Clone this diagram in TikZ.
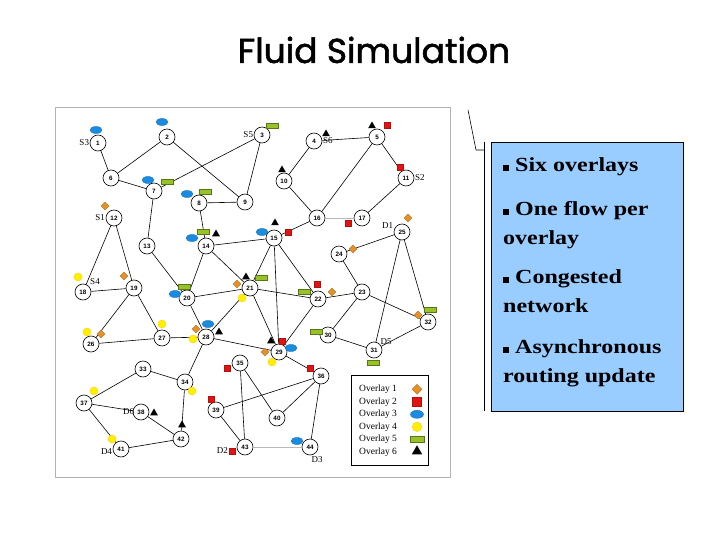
\documentclass[tikz,border=0pt]{standalone}
\usepackage{fontspec}
\setmainfont{Liberation Serif}
\newfontfamily\titlefont{Poppins}[FakeBold=1.6]
\newfontfamily\numfont{Liberation Sans}
\newfontfamily\notefont{Liberation Serif}[FakeStretch=1.2]
\usepackage{xcolor}
\usepackage{tikz}
\usetikzlibrary{positioning,shapes.geometric}

\definecolor{ovorange}{RGB}{230,145,40}
\definecolor{ovred}{RGB}{225,20,20}
\definecolor{ovblue}{RGB}{25,140,225}
\definecolor{ovyellow}{RGB}{255,240,0}
\definecolor{ovgreen}{RGB}{150,195,40}
\definecolor{notefill}{RGB}{153,204,255}

\begin{document}
\begin{tikzpicture}[
  x=1pt,y=-1pt,
  nd/.style={circle,draw,fill=white,line width=0.6pt,inner sep=0pt,minimum size=16pt,
             font=\numfont\bfseries\fontsize{6.3}{7}\selectfont},
  lbl/.style={inner sep=0.5pt,font=\fontsize{9}{10}\selectfont},
  link/.style={line width=0.6pt},
  glink/.style={line width=0.9pt,gray!55},
  ovdia/.style={diamond,draw=ovorange!75!black,fill=ovorange,inner sep=0pt,minimum size=8pt},
  ovsq/.style={rectangle,draw=ovred!80!black,fill=ovred,inner sep=0pt,minimum size=6.5pt},
  ovell/.style={ellipse,draw=ovblue!80!black,fill=ovblue,inner sep=0pt,minimum width=12pt,minimum height=7pt},
  ovhex/.style={circle,draw=ovyellow!70!orange,fill=ovyellow,inner sep=0pt,minimum size=8pt},
  ovbar/.style={rectangle,draw=ovgreen!60!black,fill=ovgreen,inner sep=0pt,minimum width=12pt,minimum height=5pt},
  ovtri/.style={regular polygon,regular polygon sides=3,fill=black,inner sep=0pt,minimum size=9pt},
  legtxt/.style={anchor=west,inner sep=0pt,font=\fontsize{9.5}{10}\selectfont},
  item/.style={anchor=north west,inner sep=0pt,align=left,
               font=\notefont\bfseries\fontsize{20}{29}\selectfont}
]
  \fill[white] (0,0) rectangle (720,540);
  \useasboundingbox (0,0) rectangle (720,540);

  % title
  \node[font=\titlefont\fontsize{34.5}{36}\selectfont] (title) at (374,50) {Fluid Simulation};

  % network picture frame
  \node[draw=gray!60,line width=0.8pt,minimum width=395pt,minimum height=370pt,inner sep=0pt] (frame) at (252.5,292) {};

  % routers
  \node[nd] (n1)  at (98,143)  {1};
  \node[nd] (n2)  at (167,137) {2};
  \node[nd] (n3)  at (262,135) {3};
  \node[nd] (n4)  at (314,141) {4};
  \node[nd] (n5)  at (377,137) {5};
  \node[nd] (n6)  at (111,178) {6};
  \node[nd] (n7)  at (154,191) {7};
  \node[nd] (n8)  at (199,203) {8};
  \node[nd] (n9)  at (245,202) {9};
  \node[nd] (n10) at (284,181) {10};
  \node[nd] (n11) at (406,178) {11};
  \node[nd] (n12) at (114,218) {12};
  \node[nd] (n13) at (147,246) {13};
  \node[nd] (n14) at (206,246) {14};
  \node[nd] (n15) at (274,238) {15};
  \node[nd] (n16) at (317,218) {16};
  \node[nd] (n17) at (362,218) {17};
  \node[nd] (n18) at (83,292)  {18};
  \node[nd] (n19) at (134,288) {19};
  \node[nd] (n20) at (187,298) {20};
  \node[nd] (n21) at (250,288) {21};
  \node[nd] (n22) at (318,299) {22};
  \node[nd] (n23) at (362,292) {23};
  \node[nd] (n24) at (339,254) {24};
  \node[nd] (n25) at (402,232) {25};
  \node[nd] (n26) at (91,344)  {26};
  \node[nd] (n27) at (162,338) {27};
  \node[nd] (n28) at (206,337) {28};
  \node[nd] (n29) at (279,352) {29};
  \node[nd] (n30) at (328,335) {30};
  \node[nd] (n31) at (374,350) {31};
  \node[nd] (n32) at (428,322) {32};
  \node[nd] (n33) at (143,369) {33};
  \node[nd] (n34) at (185,382) {34};
  \node[nd] (n35) at (240,363) {35};
  \node[nd] (n36) at (321,376) {36};
  \node[nd] (n37) at (84,403)  {37};
  \node[nd] (n38) at (141,412) {38};
  \node[nd] (n39) at (216,410) {39};
  \node[nd] (n40) at (277,418) {40};
  \node[nd] (n41) at (121,449) {41};
  \node[nd] (n42) at (181,439) {42};
  \node[nd] (n43) at (245,447) {43};
  \node[nd] (n44) at (310,447) {44};

  % links
  \draw[link] (n1) -- (n6);
  \draw[link] (n6) -- (n2);
  \draw[link] (n6) -- (n7);
  \draw[link] (n2) -- (n9);
  \draw[link] (n3) -- (n7);
  \draw[link] (n3) -- (n9);
  \draw[link] (n8) -- (n9);
  \draw[link] (n7) -- (n13);
  \draw[link] (n8) -- (n14);
  \draw[link] (n4) -- (n10);
  \draw[link] (n4) -- (n5);
  \draw[link] (n5) -- (n16);
  \draw[link] (n5) -- (n11);
  \draw[link] (n10) -- (n16);
  \draw[glink] (n16) -- (n17);
  \draw[link] (n11) -- (n17);
  \draw[link] (n16) -- (n15);
  \draw[link] (n14) -- (n15);
  \draw[link] (n12) -- (n18);
  \draw[link] (n12) -- (n19);
  \draw[link] (n13) -- (n20);
  \draw[link] (n14) -- (n20);
  \draw[link] (n14) -- (n21);
  \draw[link] (n15) -- (n21);
  \draw[link] (n15) -- (n22);
  \draw[link] (n15) -- (n29);
  \draw[link] (n18) -- (n19);
  \draw[link] (n19) -- (n26);
  \draw[link] (n19) -- (n27);
  \draw[link] (n20) -- (n21);
  \draw[link] (n20) -- (n28);
  \draw[link] (n21) -- (n22);
  \draw[link] (n21) -- (n29);
  \draw[link] (n22) -- (n23);
  \draw[link] (n22) -- (n29);
  \draw[link] (n24) -- (n23);
  \draw[link] (n24) -- (n25);
  \draw[link] (n23) -- (n30);
  \draw[link] (n23) -- (n32);
  \draw[link] (n25) -- (n31);
  \draw[link] (n25) -- (n32);
  \draw[link] (n30) -- (n31);
  \draw[link] (n31) -- (n32);
  \draw[link] (n26) -- (n27);
  \draw[link] (n27) -- (n28);
  \draw[link] (n28) -- (n21);
  \draw[link] (n28) -- (n29);
  \draw[link] (n28) -- (n34);
  \draw[link] (n29) -- (n36);
  \draw[link] (n33) -- (n34);
  \draw[link] (n33) -- (n37);
  \draw[link] (n37) -- (n38);
  \draw[link] (n37) -- (n41);
  \draw[link] (n38) -- (n42);
  \draw[link] (n41) -- (n42);
  \draw[link] (n34) -- (n42);
  \draw[link] (n35) -- (n43);
  \draw[link] (n35) -- (n40);
  \draw[link] (n39) -- (n36);
  \draw[link] (n39) -- (n43);
  \draw[link] (n36) -- (n40);
  \draw[link] (n36) -- (n44);
  \draw[glink] (n43) -- (n44);

  % overlay 1
  \node[ovdia] (a1)  at (105,206) {};
  \node[ovdia] (a2)  at (408,218) {};
  \node[ovdia] (a3)  at (124,276) {};
  \node[ovdia] (a4)  at (237,284) {};
  \node[ovdia] (a5)  at (101,334) {};
  \node[ovdia] (a6)  at (196,329) {};
  \node[ovdia] (a7)  at (353,249) {};
  \node[ovdia] (a8)  at (332,292) {};
  \node[ovdia] (a9)  at (418,315) {};
  \node[ovdia] (a10) at (265,352) {};
  % overlay 2
  \node[ovsq] (r1)  at (387,125) {};
  \node[ovsq] (r2)  at (400,167) {};
  \node[ovsq] (r3)  at (348,223) {};
  \node[ovsq] (r4)  at (288,232) {};
  \node[ovsq] (r5)  at (317,284) {};
  \node[ovsq] (r6)  at (282,341) {};
  \node[ovsq] (r7)  at (310,368) {};
  \node[ovsq] (r8)  at (227,368) {};
  \node[ovsq] (r9)  at (211,399) {};
  \node[ovsq] (r10) at (232,451) {};
  % overlay 3
  \node[ovell] (b1)  at (96,130)  {};
  \node[ovell] (b2)  at (162,122) {};
  \node[ovell] (b3)  at (148,180) {};
  \node[ovell] (b4)  at (187,194) {};
  \node[ovell] (b5)  at (192,238) {};
  \node[ovell] (b6)  at (262,232) {};
  \node[ovell] (b7)  at (175,294) {};
  \node[ovell] (b8)  at (208,324) {};
  \node[ovell] (b9)  at (291,348) {};
  \node[ovell] (b10) at (297,441) {};
  % overlay 4
  \node[ovhex] (y1) at (78,277)  {};
  \node[ovhex] (y2) at (242,298) {};
  \node[ovhex] (y3) at (87,332)  {};
  \node[ovhex] (y4) at (162,324) {};
  \node[ovhex] (y5) at (193,339) {};
  \node[ovhex] (y6) at (272,362) {};
  \node[ovhex] (y7) at (192,391) {};
  \node[ovhex] (y8) at (94,391)  {};
  \node[ovhex] (y9) at (112,439) {};
  % overlay 5
  \node[ovbar] (g1)  at (167,182) {};
  \node[ovbar] (g2)  at (205,192) {};
  \node[ovbar] (g3)  at (272,126) {};
  \node[ovbar] (g4)  at (203,232) {};
  \node[ovbar] (g5)  at (184,287) {};
  \node[ovbar] (g6)  at (261,278) {};
  \node[ovbar] (g7)  at (304,292) {};
  \node[ovbar] (g8)  at (316,332) {};
  \node[ovbar] (g9)  at (430,310) {};
  \node[ovbar] (g10) at (373,363) {};
  % overlay 6
  \node[ovtri] (t1)  at (326,134) {};
  \node[ovtri] (t2)  at (372,126) {};
  \node[ovtri] (t3)  at (282,170) {};
  \node[ovtri] (t4)  at (216,234) {};
  \node[ovtri] (t5)  at (275,223) {};
  \node[ovtri] (t6)  at (246,277) {};
  \node[ovtri] (t7)  at (219,332) {};
  \node[ovtri] (t8)  at (271,341) {};
  \node[ovtri] (t9)  at (154,413) {};
  \node[ovtri] (t10) at (182,425) {};

  % sources and destinations
  \node[lbl,left=0pt of n1] (s3) {S3};
  \node[lbl,left=0pt of n12] (s1) {S1};
  \node[lbl,left=0pt of n3] (s5) {S5};
  \node[lbl,right=0pt of n4] (s6) {S6};
  \node[lbl,right=0pt of n11] (s2) {S2};
  \node[lbl] (s4) at (95,282) {S4};
  \node[lbl,left=0pt of n25,yshift=6pt] (d1) {D1};
  \node[lbl] (d5) at (386,342) {D5};
  \node[lbl,left=-2pt of n38] (d6) {D6};
  \node[lbl,left=0pt of n41,yshift=-3pt] (d4) {D4};
  \node[lbl,left=0pt of r10] (d2) {D2};
  \node[lbl] (d3) at (317,460) {D3};

  % legend
  \node[draw,line width=0.8pt,minimum width=77pt,minimum height=90pt,inner sep=0pt] (legend) at (390,420.7) {};
  \node[legtxt] (l1) at (359,389.3) {Overlay 1};
  \node[legtxt] (l2) at (359,401.8) {Overlay 2};
  \node[legtxt] (l3) at (359,414.3) {Overlay 3};
  \node[legtxt] (l4) at (359,426.8) {Overlay 4};
  \node[legtxt] (l5) at (359,439.3) {Overlay 5};
  \node[legtxt] (l6) at (359,451.8) {Overlay 6};
  \node[ovdia,minimum size=10pt] (k1) at (417,389.3) {};
  \node[ovsq,minimum size=9pt] (k2) at (417,401.8) {};
  \node[ovell,minimum width=13pt,minimum height=8pt] (k3) at (417,414.3) {};
  \node[ovhex,minimum size=9.5pt] (k4) at (417,426.8) {};
  \node[ovbar,minimum width=14pt,minimum height=6pt] (k5) at (417,439.3) {};
  \node[ovtri,minimum size=12pt] (k6) at (417,451.3) {};

  % notes callout
  \node[draw,fill=notefill,line width=0.8pt,minimum width=192pt,minimum height=269pt,inner sep=0pt] (notes) at (587,276.5) {};
  \coordinate (tip) at (468,110);
  \coordinate (knee) at (476,150);
  \draw[line width=0.6pt] (tip) -- (knee) -- ([xshift=-6pt]notes.west |- knee);
  \draw[line width=0.8pt] ([xshift=-6pt]notes.north west) -- ([xshift=-6pt]notes.south west);
  \node[item] (it1) at (503,157) {\rule{6pt}{6pt} Six overlays};
  \node[item] (it2) at (503,201) {\rule{6pt}{6pt} One flow per\\overlay};
  \node[item] (it3) at (503,269) {\rule{6pt}{6pt} Congested\\network};
  \node[item] (it4) at (503,339) {\rule{6pt}{6pt} Asynchronous\\routing update};
\end{tikzpicture}
\end{document}
